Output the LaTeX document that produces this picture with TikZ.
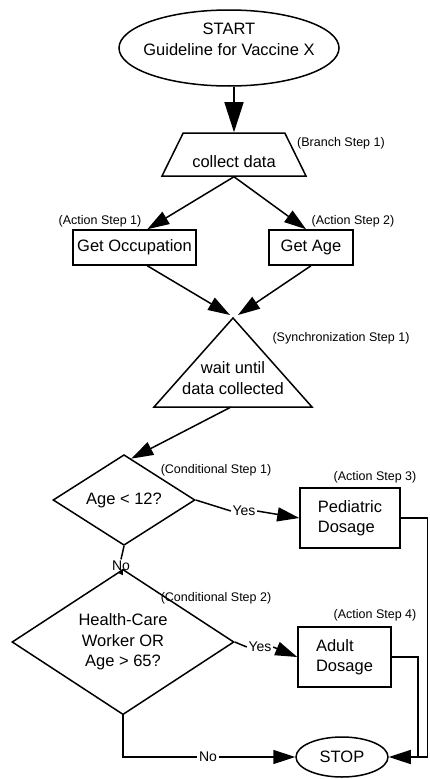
\documentclass[tikz,border=0pt]{standalone}
\usepackage{fontspec}
\setmainfont{Liberation Sans}
\usetikzlibrary{shapes.geometric,arrows.meta,calc}

\begin{document}
\begin{tikzpicture}[x=1pt,y=-1pt,line width=1.5pt,
  every node/.style={font=\fontsize{16.5}{20.5}\selectfont},
  term/.style={ellipse,draw,align=center,inner sep=0pt},
  act/.style={rectangle,draw,inner sep=0pt},
  cond/.style={diamond,draw,align=center,inner sep=0pt},
  tag/.style={font=\fontsize{12.5}{14}\selectfont,inner sep=0pt},
  ans/.style={font=\fontsize{14}{16}\selectfont,inner sep=1pt},
  arr/.style={-{Triangle[length=22pt,width=14pt]}},
  bigarr/.style={-{Triangle[length=30pt,width=19pt]}},
  tinyarr/.style={-{Triangle[length=6pt,width=5pt]}}
]
\useasboundingbox (0,0) rectangle (429,779);

% main steps
\node[term,minimum width=220pt,minimum height=76pt,inner xsep=-13pt,text depth=18pt] (start) at (229,48) {START\\Guideline for Vaccine X};
\node[trapezium,draw,trapezium left angle=51,trapezium right angle=51,trapezium stretches body,
  minimum width=144pt,minimum height=43pt,inner sep=0pt,text height=26pt] (collect) at (234,154.5) {collect data};
\node[act,minimum width=123pt,minimum height=35pt] (occ) at (134.5,247.5) {Get Occupation};
\node[act,minimum width=84pt,minimum height=35pt] (age) at (311,247.5) {Get Age};
% synchronization triangle
\coordinate (syncapex) at (233,318);
\coordinate (syncbase) at (231,407);
\draw (syncapex) -- (154,407) -- (312,407) -- cycle;
\node[align=center,inner sep=0pt] (sync) at (233,378) {wait until\\data collected};
\node[cond,minimum width=142pt,minimum height=74pt] (young) at (124,500) {Age < 12?};
\node[act,minimum width=100pt,minimum height=60pt,align=left] (ped) at (350,518) {Pediatric\\Dosage};
\node[cond,minimum width=222pt,minimum height=104pt] (risk) at (123,642) {Health-Care\\Worker OR\\Age > 65?};
\node[act,minimum width=93pt,minimum height=60pt,align=left] (adult) at (344.5,657) {Adult\\Dosage};
\node[term,minimum width=92pt,minimum height=40pt] (stop) at (342,757) {STOP};

% step tags
\node[tag] (tbranch) at (341,143) {(Branch Step 1)};
\node[tag] (tact1) at (100,221) {(Action Step 1)};
\node[tag] (tact2) at (353,221) {(Action Step 2)};
\node[tag] (tsync) at (341,338) {(Synchronization Step 1)};
\node[tag] (tcond1) at (216,470) {(Conditional Step 1)};
\node[tag] (tact3) at (375,477) {(Action Step 3)};
\node[tag] (tcond2) at (216,598) {(Conditional Step 2)};
\node[tag] (tact4) at (375,615) {(Action Step 4)};

% answers
\node[ans] (yes1) at (244,511) {Yes};
\node[ans] (no1) at (121,566) {No};
\node[ans] (yes2) at (260,647) {Yes};
\node[ans] (no2) at (208,757) {No};

\coordinate (pedturn) at (427.5,757);
\coordinate (adultturn) at (418,757);

% connectors
\draw[bigarr] (collect.north |- start.south) -- (collect.north);
\draw[arr] (collect.south) -- (occ.55);
\draw[arr] (collect.south) -- (age.105);
\draw[arr] (occ.-55) -- ($(syncapex)+(-3,-3)$);
\draw[arr] (age.south) -- ($(syncapex)+(5,-3)$);
\draw[arr] (syncbase) -- (young.80);
\draw (young.east) -- (yes1.west);
\draw[arr] (yes1.east) -- (ped.west);
\draw (young.south) -- (no1.north);
\draw[tinyarr] (no1.south) -- (risk.north);
\draw (risk.east) -- (yes2.west);
\draw[arr] (yes2.east) -- (adult.west);
\draw (risk.south) |- (no2.west);
\draw[arr] (no2.east) -- (stop.west);
\draw (ped.east) -| (pedturn);
\draw (adult.east) -| (adultturn);
\draw[arr] (pedturn) -- (stop.east);

\end{tikzpicture}
\end{document}
